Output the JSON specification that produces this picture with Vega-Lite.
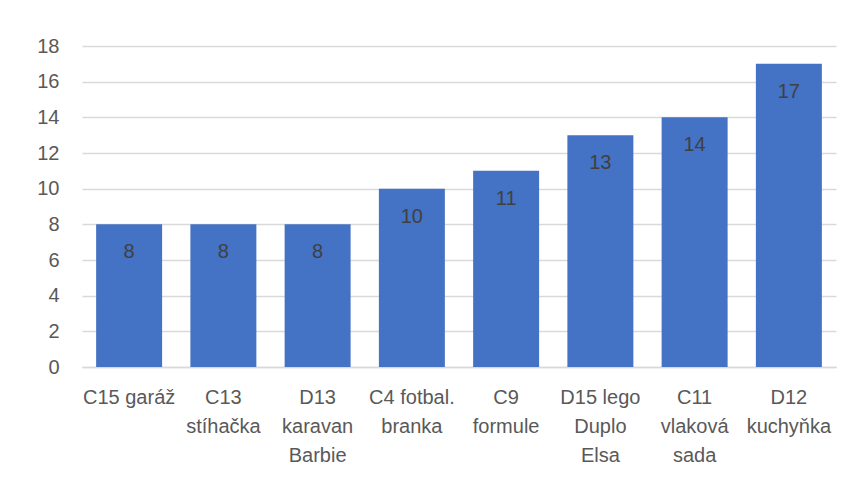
{
  "$schema": "https://vega.github.io/schema/vega-lite/v6.json",
  "width": 754,
  "height": 321,
  "autosize": "none",
  "padding": {"left": 82, "top": 46, "right": 14, "bottom": 116},
  "background": "white",
  "data": {
    "values": [
      {"name": "C15 garáž", "value": 8},
      {"name": "C13|stíhačka", "value": 8},
      {"name": "D13|karavan|Barbie", "value": 8},
      {"name": "C4 fotbal.|branka", "value": 10},
      {"name": "C9|formule", "value": 11},
      {"name": "D15 lego|Duplo|Elsa", "value": 13},
      {"name": "C11|vlaková|sada", "value": 14},
      {"name": "D12|kuchyňka", "value": 17}
    ]
  },
  "encoding": {
    "x": {
      "field": "name",
      "type": "nominal",
      "sort": null,
      "scale": {"paddingInner": 0.3, "paddingOuter": 0.15},
      "axis": {
        "title": null,
        "labelAngle": 0,
        "labelExpr": "split(datum.value, '|')",
        "labelFont": "Liberation Sans",
        "labelFontSize": 20,
        "labelColor": "#595959",
        "labelLineHeight": 29,
        "labelPadding": 20,
        "labelBaseline": "top",
        "ticks": false,
        "domainColor": "#d9d9d9",
        "domainWidth": 1.5
      }
    },
    "y": {
      "field": "value",
      "type": "quantitative",
      "scale": {"domain": [0, 18], "nice": false},
      "axis": {
        "title": null,
        "values": [0, 2, 4, 6, 8, 10, 12, 14, 16, 18],
        "labelFont": "Liberation Sans",
        "labelFontSize": 20,
        "labelColor": "#595959",
        "labelPadding": 23,
        "ticks": false,
        "domain": false,
        "gridColor": "#d9d9d9",
        "gridWidth": 1.5
      }
    }
  },
  "layer": [
    {"mark": {"type": "bar", "color": "#4472C4"}},
    {
      "mark": {
        "type": "text",
        "baseline": "middle",
        "dy": 28,
        "font": "Liberation Sans",
        "fontSize": 20,
        "color": "#404040"
      },
      "encoding": {"text": {"field": "value", "type": "quantitative"}}
    }
  ],
  "config": {"view": {"stroke": null}}
}
